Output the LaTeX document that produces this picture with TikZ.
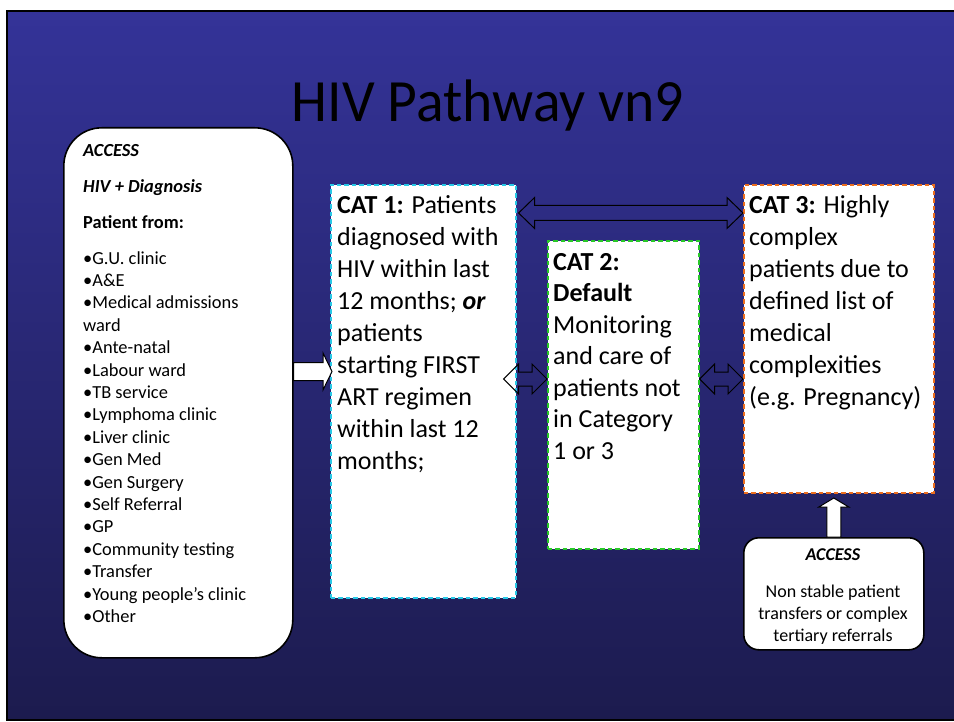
\documentclass[tikz,border=0pt]{standalone}
\usepackage{fontspec}
\setmainfont{Carlito}
\usetikzlibrary{calc}

\definecolor{slidetop}{RGB}{52,51,152}
\definecolor{slidebot}{RGB}{28,27,78}
\definecolor{catone}{RGB}{40,200,230}
\definecolor{cattwo}{RGB}{40,200,40}
\definecolor{catthree}{RGB}{235,110,30}

\tikzset{
  catbox/.style={draw, fill=white, line width=1.6pt, dash pattern=on 4.5pt off 3pt,
                 anchor=north west, inner sep=0pt},
  accessbox/.style={draw=black, fill=white, line width=1.6pt, anchor=north west, inner sep=0pt},
  bodytext/.style={anchor=north west, align=left, inner sep=0pt, text=black,
                   font=\fontsize{26}{32}\selectfont},
  blockarrow/.style={draw=black, line width=1pt, line join=miter},
}

% horizontal double block arrow: [style] {left tip}{right tip}{head length}{head half}{shaft half}
\newcommand\hdblarrow[6][]{%
  \draw[blockarrow,#1]
    (#2) -- ($(#2)+(#4,-#5)$) -- ($(#2)+(#4,-#6)$) -- ($(#3)+(-#4,-#6)$) -- ($(#3)+(-#4,-#5)$)
    -- (#3) -- ($(#3)+(-#4,#5)$) -- ($(#3)+(-#4,#6)$) -- ($(#2)+(#4,#6)$) -- ($(#2)+(#4,#5)$)
    -- cycle;}

% single block arrow pointing right: [style] {tail}{tip}{head length}{head half}{shaft half}
\newcommand\rightarrowblock[6][]{%
  \draw[blockarrow,#1]
    ($(#2)+(0,-#6)$) -- ($(#3)+(-#4,-#6)$) -- ($(#3)+(-#4,-#5)$) -- (#3)
    -- ($(#3)+(-#4,#5)$) -- ($(#3)+(-#4,#6)$) -- ($(#2)+(0,#6)$) -- cycle;}

% single block arrow pointing up: [style] {tail}{tip}{head length}{head half}{shaft half}
\newcommand\uparrowblock[6][]{%
  \draw[blockarrow,#1]
    ($(#2)+(-#6,0)$) -- ($(#3)+(-#6,#4)$) -- ($(#3)+(-#5,#4)$) -- (#3)
    -- ($(#3)+(#5,#4)$) -- ($(#3)+(#6,#4)$) -- ($(#2)+(#6,0)$) -- cycle;}

\begin{document}
\begin{tikzpicture}[x=1pt,y=-1pt]
\useasboundingbox (0,0) rectangle (954,722);

% slide background
\shade[top color=slidetop, bottom color=slidebot] (7,11) rectangle (972,720);
\draw[line width=2pt] (972,11) -- (7,11) -- (7,720) -- (972,720);

% title
\node[anchor=base, inner sep=0pt, font=\fontsize{60}{72}\selectfont] (title) at (488,122)
  {\scalebox{0.96}[1]{HIV Pathway vn9}};

% referral sources
\node[accessbox, rounded corners=38pt, minimum width=229pt, minimum height=530pt] (src) at (63,127) {};
\node[bodytext, font=\fontsize{18.4}{22.4}\selectfont] (srctext) at (83,140.3)
  {\strut\textbf{\textit{ACCESS}}\\[13.6pt]
   \textbf{\textit{HIV + Diagnosis}}\\[13.6pt]
   \textbf{Patient from:}\\[13.6pt]
   •G.U. clinic\\
   •A\&E\\
   •Medical admissions\\
   ward\\
   •Ante-natal\\
   •Labour ward\\
   •TB service\\
   •Lymphoma clinic\\
   •Liver clinic\\
   •Gen Med\\
   •Gen Surgery\\
   •Self Referral\\
   •GP\\
   •Community testing\\
   •Transfer\\
   •Young people’s clinic\\
   •Other};

% category boxes
\node[catbox, draw=catone, minimum width=185pt, minimum height=413pt] (c1) at (330,184) {};
\node[bodytext] (c1text) at (337,190.6)
  {\strut\textbf{CAT 1:} Patients\\
   diagnosed with\\
   HIV within last\\
   12 months; \textbf{\textit{or}}\\
   patients\\
   starting FIRST\\
   ART regimen\\
   within last 12\\
   months;};

\node[catbox, draw=cattwo, minimum width=151pt, minimum height=308pt] (c2) at (547,240) {};
\node[bodytext, font=\fontsize{26}{31.5}\selectfont] (c2text) at (553,248)
  {\strut\textbf{CAT 2:}\\
   \textbf{Default}\\
   Monitoring\\
   and care of\\
   patients not\\
   in Category\\
   1 or 3};

\node[catbox, draw=catthree, minimum width=190pt, minimum height=308pt] (c3) at (743,184) {};
\node[bodytext] (c3text) at (749,190.6)
  {\strut\textbf{CAT 3:} Highly\\
   complex\\
   patients due to\\
   defined list of\\
   medical\\
   complexities\\
   (e.g. Pregnancy)};

% tertiary access
\node[accessbox, rounded corners=15pt, minimum width=180pt, minimum height=112pt] (acc) at (743,537) {};
\node[anchor=north, align=center, inner sep=0pt, font=\fontsize{18}{22}\selectfont] (acctext) at (833,544.6)
  {\strut\textbf{\textit{ACCESS}}\\[15pt]
   Non stable patient\\
   transfers or complex\\
   tertiary referrals};

% connector end points
\coordinate (srcout) at (src.east |- 0,371.5);
\coordinate (c1in)   at ($(c1.west |- 0,371.5)+(2,0)$);
\coordinate (c1top)  at ($(c1.east |- 0,213)+(2,0)$);
\coordinate (c3top)  at (c3.west |- 0,213);
\coordinate (c1mid)  at ($(c1.east |- 0,379)+(-13,0)$);
\coordinate (c2left) at (c2.west |- 0,379);
\coordinate (c2right) at (c2.east |- 0,379);
\coordinate (c3mid)  at (c3.west |- 0,379);
\coordinate (accout) at (acc.north);
\coordinate (c3in)   at (acc.north |- 0,498);

% connectors
\rightarrowblock[fill=white]{srcout}{c1in}{9}{18.5}{9}
\hdblarrow{c1top}{c3top}{16}{15.5}{7.5}
\hdblarrow{c1mid}{c2left}{15}{15}{7}
\hdblarrow{c2right}{c3mid}{15}{15}{7}
\uparrowblock[fill=white]{accout}{c3in}{9}{15}{7}
\end{tikzpicture}
\end{document}
